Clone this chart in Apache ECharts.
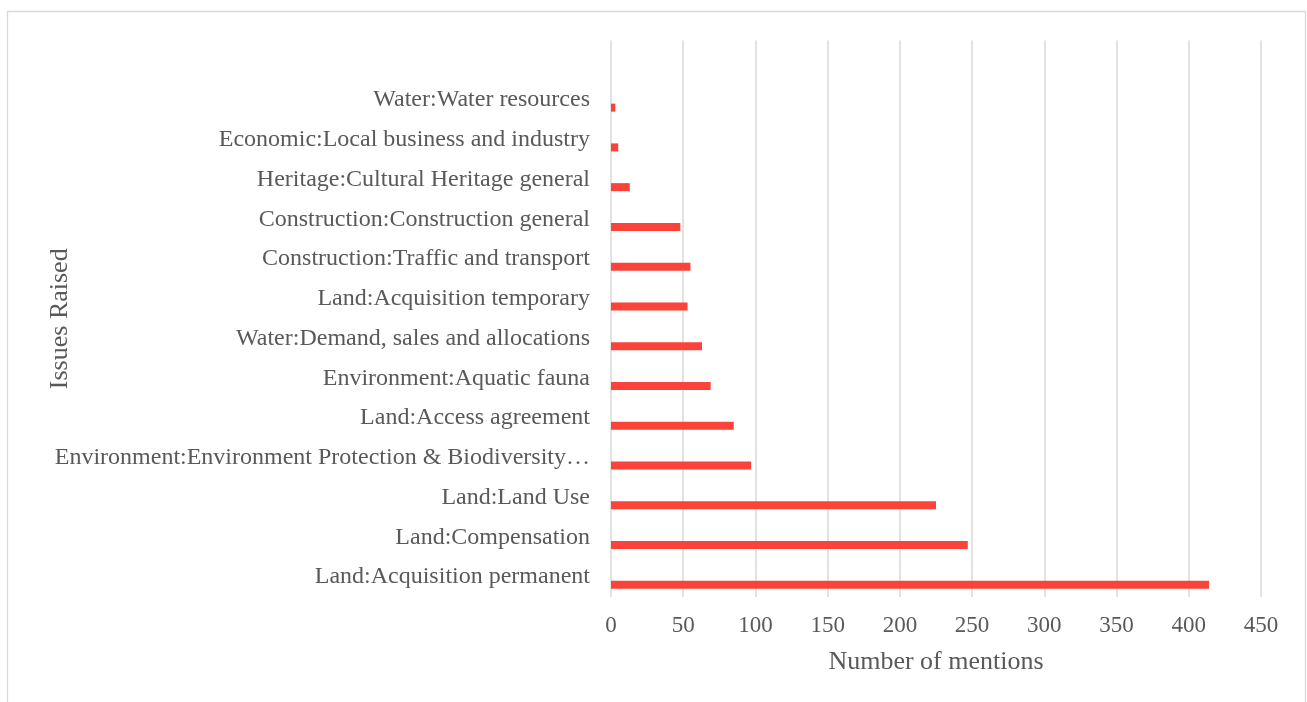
<!DOCTYPE html>
<html>
<head>
<meta charset="utf-8">
<script src="https://cdn.jsdelivr.net/npm/echarts@6/dist/echarts.min.js"></script>
<style>
html,body{margin:0;padding:0;background:#fff;}
#c{width:1307px;height:702px;}
</style>
</head>
<body>
<div id="c"></div>
<script>
// Categories listed bottom to top (the top band is empty in the source chart)
const categories = [
  'Land:Acquisition permanent',
  'Land:Compensation',
  'Land:Land Use',
  'Environment:Environment Protection & Biodiversity…',
  'Land:Access agreement',
  'Environment:Aquatic fauna',
  'Water:Demand, sales and allocations',
  'Land:Acquisition temporary',
  'Construction:Traffic and transport',
  'Construction:Construction general',
  'Heritage:Cultural Heritage general',
  'Economic:Local business and industry',
  'Water:Water resources',
  ''
];
const mentions = [414, 247, 225, 97, 85, 69, 63, 53, 55, 48, 13, 5, 3, null];
const emptySeries = [null, null, null, null, null, null, null, null, null, null, null, null, null, null];
const xTicks = {min: 0, max: 450, interval: 50};

const font = 'Liberation Serif';
const grey = '#595959';
const chart = echarts.init(document.getElementById('c'), null, {renderer: 'canvas'});
chart.setOption({
  animation: false,
  backgroundColor: '#ffffff',
  graphic: [{
    type: 'rect',
    shape: {x: 7.5, y: 11.5, width: 1298, height: 720},
    style: {fill: 'none', stroke: '#d9d9d9', lineWidth: 1.3},
    silent: true
  }],
  grid: {left: 611, right: 46, top: 40.5, bottom: 105, containLabel: false},
  xAxis: {
    type: 'value',
    min: xTicks.min, max: xTicks.max, interval: xTicks.interval,
    name: 'Number of mentions',
    nameLocation: 'middle',
    nameGap: 52,
    nameMoveOverlap: false,
    nameTextStyle: {fontFamily: font, fontSize: 26, color: grey},
    axisLine: {show: false},
    axisTick: {show: false},
    axisLabel: {fontFamily: font, fontSize: 23, color: grey, margin: 17},
    splitLine: {show: true, lineStyle: {color: '#d9d9d9', width: 1.5}}
  },
  yAxis: {
    type: 'category',
    data: categories,
    name: 'Issues Raised',
    nameLocation: 'middle',
    nameGap: 538,
    nameRotate: 90,
    nameMoveOverlap: false,
    nameTextStyle: {fontFamily: font, fontSize: 26, color: grey},
    axisLine: {show: false},
    axisTick: {show: false},
    axisLabel: {fontFamily: font, fontSize: 24, color: grey, margin: 21},
    splitLine: {show: false}
  },
  series: [
    {type: 'bar', data: emptySeries, barWidth: 8, barGap: '88%', itemStyle: {color: '#ff4136'}},
    {type: 'bar', data: mentions, barWidth: 8, barGap: '88%', itemStyle: {color: '#fc4339'}}
  ]
});
</script>
</body>
</html>
